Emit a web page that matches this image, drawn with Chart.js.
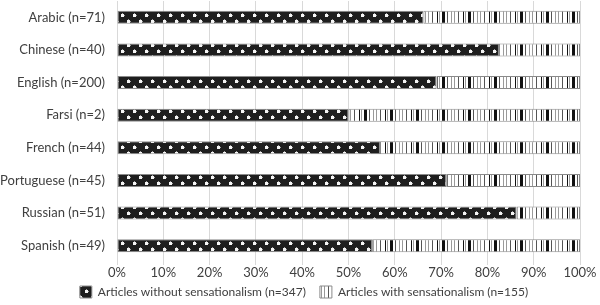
<!DOCTYPE html>
<html>
<head>
<meta charset="utf-8">
<script src="https://cdn.jsdelivr.net/npm/chart.js@4"></script>
<style>
  html, body { margin: 0; padding: 0; background: #fff; }
  #wrap { width: 600px; height: 305px; }
</style>
</head>
<body>
<div id="wrap"><canvas id="chart"></canvas></div>
<script>
const languages = ["Arabic (n=71)", "Chinese (n=40)", "English (n=200)", "Farsi (n=2)",
  "French (n=44)", "Portuguese (n=45)", "Russian (n=51)", "Spanish (n=49)"]
// share of articles, in percent
const withoutSensationalism = [66.2, 82.5, 69.0, 50.0, 56.8, 71.1, 86.3, 55.1]
const withSensationalism = [33.8, 17.5, 31.0, 50.0, 43.2, 28.9, 13.7, 44.9]
const seriesNames = ["Articles without sensationalism (n=347)", "Articles with sensationalism (n=155)"]
const tickLabels = ["0%", "10%", "20%", "30%", "40%", "50%", "60%", "70%", "80%", "90%", "100%"]

const canvas = document.getElementById("chart")
const ctx = canvas.getContext("2d")

// dark fill with little white squares
function dotPattern() {
  const t = document.createElement("canvas")
  t.width = 12; t.height = 12
  const c = t.getContext("2d")
  c.fillStyle = "#1e1e1e"
  c.fillRect(0, 0, 12, 12)
  c.fillStyle = "#f4f4f4"
  c.fillRect(1, 2, 3, 3)
  c.fillRect(7, 8, 3, 3)
  c.fillStyle = "#a0a0a0"
  c.fillRect(2, 1, 1, 1)
  c.fillRect(8, 7, 1, 1)
  c.fillRect(4, 3, 1, 1)
  c.fillRect(10, 9, 1, 1)
  return ctx.createPattern(t, "repeat")
}

// white fill with vertical stripes of different widths
function stripePattern() {
  const t = document.createElement("canvas")
  t.width = 26; t.height = 10
  const c = t.getContext("2d")
  c.fillStyle = "#ffffff"
  c.fillRect(0, 0, 26, 10)
  c.fillStyle = "#111"
  c.fillRect(0, 0, 3, 10)
  c.fillRect(21, 0, 1, 10)
  c.fillStyle = "#555"
  c.fillRect(5, 0, 1, 10)
  c.fillRect(16, 0, 1, 10)
  c.fillStyle = "#9a9a9a"
  c.fillRect(9, 0, 1, 10)
  c.fillRect(12, 0, 1, 10)
  c.fillRect(23, 0, 1, 10)
  return ctx.createPattern(t, "repeat")
}

// squeeze the legend box and let tick labels spill out of their boxes
const layoutFix = {
  id: "layoutFix",
  beforeLayout(chart) {
    const legend = chart.legend
    if (legend && !legend._patched) {
      const fit = legend.fit
      legend.fit = function () { fit.call(this); this.height = 33 }
      legend._patched = true
    }
    if (chart.scales.x) chart.scales.x._computeLabelArea = () => undefined
    if (chart.scales.y) chart.scales.y._computeLabelArea = () => undefined
  }
}

Chart.defaults.font.family = "Lato, 'Open Sans', sans-serif"
Chart.defaults.font.size = 13
Chart.defaults.color = "#404040"

new Chart(ctx, {
  type: "bar",
  data: {
    labels: languages,
    datasets: [
      {
        label: seriesNames[0],
        data: withoutSensationalism,
        backgroundColor: dotPattern(),
        borderColor: "#8a8a8a",
        borderWidth: 1,
        borderSkipped: false
      },
      {
        label: seriesNames[1],
        data: withSensationalism,
        backgroundColor: stripePattern(),
        borderColor: "#8a8a8a",
        borderWidth: 1,
        borderSkipped: false
      }
    ]
  },
  options: {
    indexAxis: "y",
    responsive: true,
    maintainAspectRatio: false,
    animation: false,
    barPercentage: 0.4,
    categoryPercentage: 1,
    layout: { padding: { top: 1, right: 20, left: 28, bottom: 0 } },
    scales: {
      x: {
        stacked: true,
        min: 0,
        max: 100,
        border: { display: false },
        grid: { color: "#d9d9d9", tickLength: 3, tickColor: "#d9d9d9" },
        ticks: {
          stepSize: 10,
          padding: 0,
          maxRotation: 0,
          callback: (v, i) => tickLabels[i]
        },
        afterFit: (scale) => { scale.height = 10 }
      },
      y: {
        stacked: true,
        border: { display: false },
        grid: { display: false },
        ticks: { padding: 4 },
        afterFit: (scale) => {
          scale.width = 89
          scale.paddingTop = 0
          scale.paddingBottom = 0
        }
      }
    },
    plugins: {
      legend: {
        position: "bottom",
        labels: { boxWidth: 12, boxHeight: 12, padding: 14, font: { size: 12 } }
      },
      tooltip: { enabled: false }
    }
  },
  plugins: [layoutFix]
})
</script>
</body>
</html>
